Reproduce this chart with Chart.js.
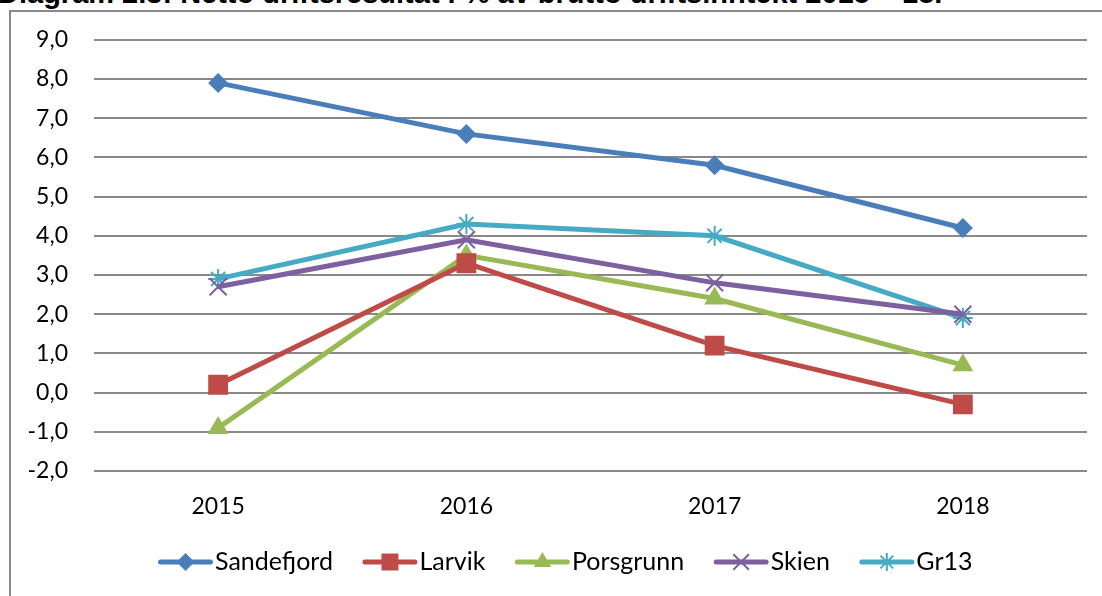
<!DOCTYPE html>
<html>
<head>
<meta charset="utf-8">
<script src="https://cdn.jsdelivr.net/npm/chart.js@4.4.1/dist/chart.umd.min.js"></script>
<style>
  html, body { margin: 0; padding: 0; background: #ffffff; overflow: hidden; }
  #wrap { position: relative; width: 1102px; height: 596px; overflow: hidden; }
  #title { position: absolute; left: -2px; top: -21px; font: bold 29px "Liberation Sans", Arial, sans-serif; line-height: 29px; color: #000; white-space: nowrap; }
  #frame { position: absolute; left: 9px; top: 10px; width: 1200px; height: 700px; border: 2px solid #8a8a8a; box-sizing: border-box; }
  #c { position: absolute; left: 0; top: 0; }
</style>
</head>
<body>
<div id="wrap">
  <div id="title">Diagram 2.3: Netto driftsresultat i % av brutto driftsinntekt 2015 – 18.</div>
  <div id="frame"></div>
  <canvas id="c" width="1102" height="596"></canvas>
</div>
<script>
const years = ['2015', '2016', '2017', '2018'];
const sandefjord = [7.9, 6.6, 5.8, 4.2];
const larvik = [0.2, 3.3, 1.2, -0.3];
const porsgrunn = [-0.9, 3.5, 2.4, 0.7];
const skien = [2.7, 3.9, 2.8, 2.0];
const gr13 = [2.9, 4.3, 4.0, 1.9];
const seriesNames = ['Sandefjord', 'Larvik', 'Porsgrunn', 'Skien', 'Gr13'];

const colors = ['#4A7EBB', '#BE4B48', '#98B954', '#7D60A0', '#46AAC5'];
const styles = [
  { pointStyle: 'rectRot', radius: 10, bw: 0, legendRadius: 9 },
  { pointStyle: 'rect', radius: 14, bw: 0, legendRadius: 12 },
  { pointStyle: 'triangle', radius: 12, bw: 0, legendRadius: 10 },
  { pointStyle: 'crossRot', radius: 12, bw: 2, legendRadius: 11 },
  { pointStyle: 'star', radius: 10, bw: 2, legendRadius: 9 }
];
const values = [sandefjord, larvik, porsgrunn, skien, gr13];

const datasets = seriesNames.map((name, i) => ({
  label: name,
  data: values[i],
  borderColor: colors[i],
  backgroundColor: colors[i],
  borderWidth: 5,
  tension: 0,
  pointStyle: styles[i].pointStyle,
  pointRadius: styles[i].radius,
  pointHoverRadius: styles[i].radius,
  pointBackgroundColor: colors[i],
  pointBorderColor: colors[i],
  pointBorderWidth: styles[i].bw
}));

const legendLine = {
  id: 'legendLine',
  afterLayout(chart) {
    const lg = chart.legend;
    if (lg) { lg.left += 22; lg.right += 22; }
  },
  afterDraw(chart) {
    const lg = chart.legend;
    if (!lg || !lg.legendHitBoxes) return;
    const ctx = chart.ctx;
    lg.legendHitBoxes.forEach((hb, i) => {
      const y = hb.top + hb.height / 2;
      const x0 = hb.left;
      ctx.save();
      ctx.strokeStyle = colors[i];
      ctx.lineWidth = 5;
      ctx.lineCap = 'round';
      ctx.beginPath();
      ctx.moveTo(x0 + 2, y);
      ctx.lineTo(x0 + 52, y);
      ctx.stroke();
      ctx.fillStyle = colors[i];
      ctx.strokeStyle = colors[i];
      ctx.lineWidth = styles[i].bw || 1;
      ctx.lineCap = 'butt';
      Chart.helpers.drawPoint(ctx, { pointStyle: styles[i].pointStyle, radius: styles[i].legendRadius, rotation: 0, borderWidth: styles[i].bw }, x0 + 27, y);
      ctx.restore();
    });
  }
};

Chart.defaults.font.family = 'Lato';
Chart.defaults.color = '#000000';

new Chart(document.getElementById('c'), {
  type: 'line',
  data: { labels: years, datasets },
  plugins: [legendLine],
  options: {
    responsive: false,
    animation: false,
    layout: { padding: { left: 0, right: 15, top: 39, bottom: 11.5 } },
    plugins: {
      title: { display: false },
      tooltip: { enabled: false },
      legend: {
        position: 'bottom',
        labels: {
          font: { size: 25 },
          color: '#000',
          boxWidth: 44,
          boxHeight: 25,
          padding: 30,
          generateLabels(chart) {
            return chart.data.datasets.map((ds, i) => ({
              text: ds.label,
              fillStyle: 'rgba(0,0,0,0)',
              strokeStyle: 'rgba(0,0,0,0)',
              lineWidth: 0,
              hidden: false,
              datasetIndex: i,
              fontColor: '#000'
            }));
          }
        }
      }
    },
    scales: {
      x: {
        offset: true,
        grid: { display: false, drawTicks: false },
        border: { display: false },
        ticks: { font: { size: 23 }, padding: 22, color: '#000' },
        afterFit(scale) { scale.height = 48.5; }
      },
      y: {
        min: -2,
        max: 9,
        grid: { color: '#898989', lineWidth: 2, drawTicks: false },
        border: { display: false },
        ticks: {
          stepSize: 1,
          font: { size: 23 },
          padding: 26,
          color: '#000',
          callback: (v) => v.toFixed(1).replace('.', ',')
        },
        afterFit(scale) { scale.width = 94; }
      }
    }
  }
});
</script>
</body>
</html>
